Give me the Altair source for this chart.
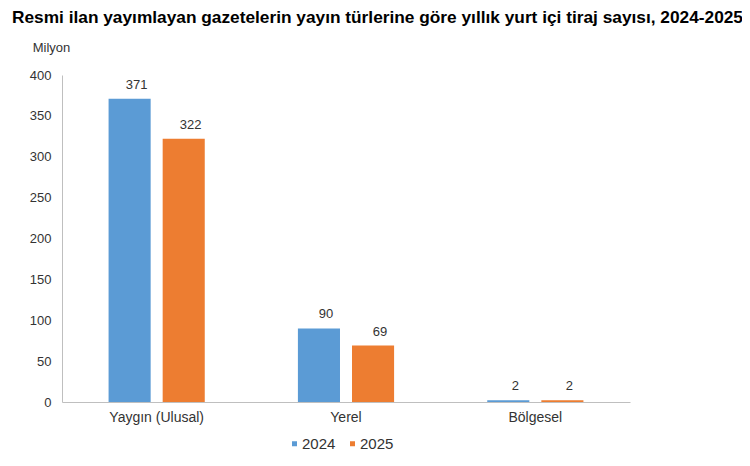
import altair as alt
import pandas as pd

categories = ["Yaygın (Ulusal)", "Yerel", "Bölgesel"]
years = ["2024", "2025"]
values_2024 = [371, 90, 2]
values_2025 = [322, 69, 2]
colors = ["#5B9BD5", "#ED7D31"]

rows = []
for c, v in zip(categories, values_2024):
    rows.append({"tur": c, "yil": "2024", "deger": v})
for c, v in zip(categories, values_2025):
    rows.append({"tur": c, "yil": "2025", "deger": v})
df = pd.DataFrame(rows)

FONT = "Liberation Sans"

base = alt.Chart(df).encode(
    x=alt.X("tur:N", sort=categories,
            scale=alt.Scale(paddingInner=0, paddingOuter=0),
            axis=alt.Axis(title=None, labelAngle=0, labelFontSize=14, labelColor="#333333",
                          labelFont=FONT, domainColor="#BFBFBF", ticks=False, labelPadding=8)),
    xOffset=alt.XOffset("yil:N", sort=years,
                        scale=alt.Scale(paddingInner=0.222, paddingOuter=0.861)),
)

bars = base.mark_bar().encode(
    y=alt.Y("deger:Q", scale=alt.Scale(domain=[0, 400]),
            axis=alt.Axis(values=list(range(0, 401, 50)), grid=False, ticks=False,
                          domainColor="#BFBFBF", labelFontSize=13, labelColor="#333333",
                          labelFont=FONT, labelPadding=11,
                          title="Milyon", titleAngle=0, titleX=-11, titleY=-28,
                          titleAlign="center", titleBaseline="middle",
                          titleFontSize=13, titleFontWeight="normal", titleFont=FONT,
                          titleColor="#333333")),
    color=alt.Color("yil:N", sort=years, scale=alt.Scale(domain=years, range=colors),
                    legend=alt.Legend(title=None, orient="none", direction="horizontal",
                                      legendX=225, legendY=361, symbolType="square",
                                      symbolSize=25, labelFontSize=15, labelFont=FONT,
                                      labelColor="#333333", columnPadding=9,
                                      symbolOffset=0, labelOffset=0,
                                      symbolStrokeWidth=0)),
)

labels = base.mark_text(baseline="alphabetic", dy=-10, dx=7, fontSize=13, font=FONT,
                        color="#333333").encode(
    y=alt.Y("deger:Q"),
    text=alt.Text("deger:Q"),
)

chart = alt.layer(bars, labels).properties(
    width=568, height=327,
    autosize="none",
    padding={"left": 54, "top": 67, "right": 112, "bottom": 56},
    title=alt.TitleParams(
        "Resmi ilan yayımlayan gazetelerin yayın türlerine göre yıllık yurt içi tiraj sayısı, 2024-2025",
        anchor="start", frame="group", dx=-50, fontSize=17.3, fontWeight="bold",
        font=FONT, color="#000000", offset=15),
).configure_view(stroke=None)

chart.save("out.html", embed_options={"renderer": "svg", "actions": False})
